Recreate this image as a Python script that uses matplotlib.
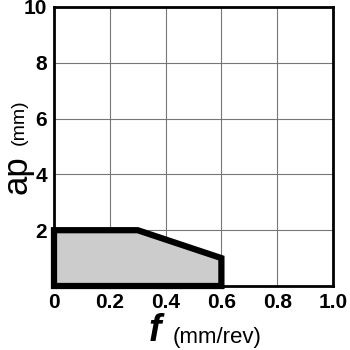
import matplotlib
matplotlib.use("Agg")
import matplotlib.pyplot as plt
from matplotlib.patches import Polygon

f_vals = [0.0, 0.0, 0.3, 0.6, 0.6]
ap_vals = [0.0, 2.0, 2.0, 1.0, 0.0]
x_ticks = [0, 0.2, 0.4, 0.6, 0.8, 1.0]
x_labels = ["0", "0.2", "0.4", "0.6", "0.8", "1.0"]
y_ticks = [2, 4, 6, 8, 10]
y_labels = ["2", "4", "6", "8", "10"]

plt.rcParams['font.family'] = ['Liberation Sans', 'DejaVu Sans']

fig = plt.figure(figsize=(3.5, 3.5), dpi=100)
ax = fig.add_axes([54/350, 1 - 286/350, 279/350, 279/350])
ax.set_xlim(0, 1.0)
ax.set_ylim(0, 10)
ax.set_xticks(x_ticks)
ax.set_xticklabels(x_labels, fontsize=15, fontweight='bold')
ax.set_yticks(y_ticks)
ax.set_yticklabels(y_labels, fontsize=15, fontweight='bold')
ax.tick_params(length=0, pad=5)
ax.grid(True, color='#777777', linewidth=0.8)
ax.set_axisbelow(True)
for s in ax.spines.values():
    s.set_linewidth(2)
    s.set_color('black')

pts = list(zip(f_vals, ap_vals))
ax.add_patch(Polygon(pts, closed=True, facecolor='#cccccc', edgecolor='black',
                     linewidth=4.5, joinstyle='miter', clip_on=False, zorder=3))

fig.text(17/350, 1 - 175/350, "ap", fontsize=25, rotation=90, ha='center', va='center')
fig.text(19/350, 1 - 122/350, "(mm)", fontsize=14, rotation=90, ha='center', va='center')
fig.text(155/350, 1 - 331/350, "f", fontsize=27, fontweight='bold', style='italic', ha='center', va='center')
fig.text(173/350, 1 - 337/350, "(mm/rev)", fontsize=16, ha='left', va='center')

fig.savefig("out.png", dpi=100)
